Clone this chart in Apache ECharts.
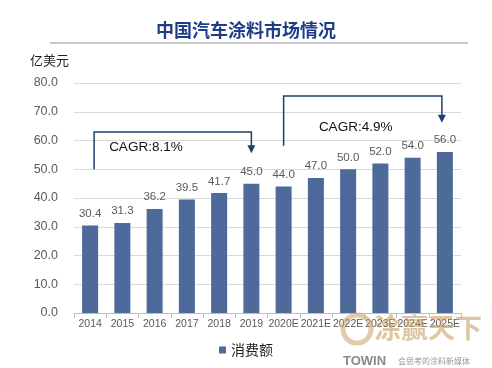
<!DOCTYPE html>
<html><head><meta charset="utf-8">
<script src="https://cdn.jsdelivr.net/npm/echarts@6/dist/echarts.min.js"></script>
<style>html,body{margin:0;padding:0;background:#fff}#c{width:492px;height:368px}</style>
</head><body><div id="c"></div>
<script>
const categories = ['2014','2015','2016','2017','2018','2019','2020E','2021E','2022E','2023E','2024E','2025E'];
const values = [30.4, 31.3, 36.2, 39.5, 41.7, 45.0, 44.0, 47.0, 50.0, 52.0, 54.0, 56.0];
const yTicks = [0, 80, 10];
const seriesName = '消费额';
const titleText = '中国汽车涂料市场情况';
const unitText = '亿美元';
const cagrLabels = ['CAGR:8.1%', 'CAGR:4.9%'];

const font = '"Liberation Sans", Arial, "Noto Sans CJK SC", sans-serif';
const chart = echarts.init(document.getElementById('c'));
chart.setOption({
  animation: false,
  title: {
    text: titleText, left: 'center', top: 16,
    textStyle: {color: '#1F3C88', fontSize: 18, fontWeight: 'bold', fontFamily: '"Noto Sans CJK SC", sans-serif'}
  },
  grid: {left: 74, right: 31, top: 83, bottom: 55, containLabel: false},
  legend: {
    data: [seriesName], bottom: 6, left: 'center', itemWidth: 7, itemHeight: 7, icon: 'rect', itemGap: 4,
    textStyle: {fontSize: 14, color: '#222', fontFamily: '"Noto Sans CJK SC", sans-serif'}
  },
  xAxis: {
    type: 'category', data: categories,
    axisLine: {lineStyle: {color: '#bfbfbf'}},
    axisTick: {show: true, lineStyle: {color: '#bfbfbf'}},
    axisLabel: {color: '#595959', fontSize: 10.5, margin: 6, interval: 0, fontFamily: font}
  },
  yAxis: {
    type: 'value', min: yTicks[0], max: yTicks[1], interval: yTicks[2],
    axisLine: {show: false}, axisTick: {show: false},
    splitLine: {lineStyle: {color: '#d9d9d9'}},
    axisLabel: {color: '#595959', fontSize: 12.5, margin: 16, formatter: v => v.toFixed(1), fontFamily: font}
  },
  series: [{
    name: seriesName, type: 'bar', data: values, barWidth: 16,
    itemStyle: {color: '#4D6A9A'},
    label: {show: true, position: 'top', distance: 6, color: '#595959', fontSize: 11.5, formatter: p => p.value.toFixed(1), fontFamily: font}
  }]
});

function px(catIdx, val, dx) {
  const p = chart.convertToPixel({gridIndex: 0}, [categories[catIdx], val]);
  return [p[0] + (dx || 0), p[1]];
}
const lc = '#1F3F6F';
const b1L = px(0, 50, 4), b1T = px(0, 63, 4), b1R = px(5, 63, 0), b1A = px(5, 55.6, 0);
const b2L = px(6, 58.2, 0), b2T = px(6, 75.5, 0), b2R = px(11, 75.5, -3), b2A = px(11, 66.2, -3);
const g = [];
function addBracket(L, T, R, A) {
  g.push({type: 'polyline', shape: {points: [L, [T[0], T[1]], [R[0], T[1]], [R[0], A[1] - 6]]},
    style: {stroke: lc, lineWidth: 1.5, fill: null}});
  g.push({type: 'polygon', shape: {points: [[R[0] - 4, A[1] - 8], [R[0] + 4, A[1] - 8], [R[0], A[1]]]},
    style: {fill: lc}});
}
addBracket(b1L, b1T, b1R, b1A);
addBracket(b2L, b2T, b2R, b2A);
const t1 = px(0, 57.8, 19), t2 = px(7, 64.7, 3);
g.push({type: 'text', x: t1[0], y: t1[1], style: {text: cagrLabels[0], fill: '#111', fontSize: 13.5, fontFamily: font, verticalAlign: 'middle'}});
g.push({type: 'text', x: t2[0], y: t2[1], style: {text: cagrLabels[1], fill: '#111', fontSize: 13.5, fontFamily: font, verticalAlign: 'middle'}});
g.push({type: 'line', shape: {x1: 50, y1: 43, x2: 468, y2: 43}, style: {stroke: '#c8c8c8', lineWidth: 2}});
g.push({type: 'text', x: 30, y: 60, style: {text: unitText, fill: '#222', fontSize: 13, fontFamily: '"Noto Sans CJK SC", sans-serif', verticalAlign: 'middle'}});
// watermark
g.push({type: 'circle', shape: {cx: 357, cy: 329, r: 14}, style: {stroke: 'rgba(200,160,100,0.55)', lineWidth: 5, fill: null}, z: 10});
g.push({type: 'text', x: 374, y: 328, style: {text: '涂赢天下', fill: 'rgba(200,160,100,0.6)', fontSize: 27, fontWeight: 'bold', fontFamily: '"Noto Sans CJK SC", sans-serif', verticalAlign: 'middle'}, z: 10});
g.push({type: 'text', x: 343, y: 361, style: {text: 'TOWIN', fill: '#8a8a8a', fontSize: 13, fontWeight: 'bold', fontFamily: font, verticalAlign: 'middle'}, z: 10});
g.push({type: 'text', x: 398, y: 361, style: {text: '会思考的涂料新媒体', fill: '#999', fontSize: 8, fontFamily: '"Noto Sans CJK SC", sans-serif', verticalAlign: 'middle'}, z: 10});
chart.setOption({graphic: g});
</script></body></html>
